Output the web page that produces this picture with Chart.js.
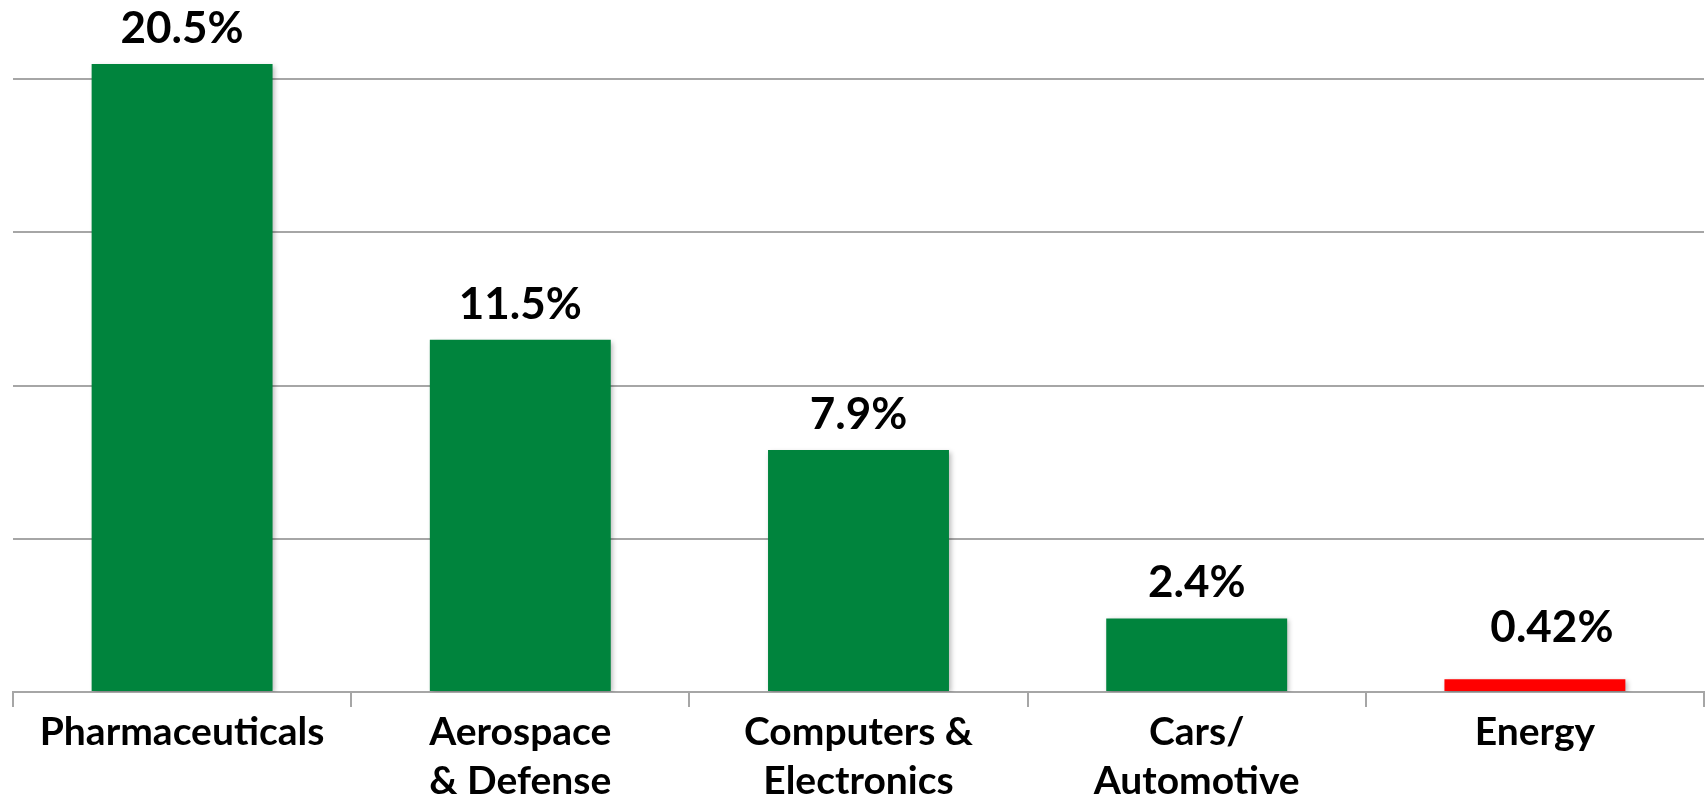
<!DOCTYPE html>
<html>
<head>
<meta charset="utf-8">
<script src="https://cdn.jsdelivr.net/npm/chart.js@4.4.1/dist/chart.umd.min.js"></script>
<style>
  html, body { margin: 0; padding: 0; background: #ffffff; }
  #wrap { width: 1708px; height: 801px; position: relative; }
</style>
</head>
<body>
<div id="wrap"><canvas id="c" width="1708" height="801"></canvas></div>
<script>
const categories = [
  ['Pharmaceuticals'],
  ['Aerospace', '& Defense'],
  ['Computers &', 'Electronics'],
  ['Cars/', 'Automotive'],
  ['Energy']
];
const values = [20.5, 11.5, 7.9, 2.4, 0.42];
const valueLabels = ['20.5%', '11.5%', '7.9%', '2.4%', '0.42%'];
const barColors = ['#00843D', '#00843D', '#00843D', '#00843D', '#FF0000'];
const gridTicks = [0, 5, 10, 15, 20];

const FONT = "Lato, 'Open Sans', sans-serif";

const shadowPlugin = {
  id: 'barShadow',
  beforeDatasetsDraw(chart) {
    const ctx = chart.ctx;
    ctx.save();
    ctx.shadowColor = 'rgba(0,0,0,0.28)';
    ctx.shadowBlur = 5;
    ctx.shadowOffsetX = 2;
    ctx.shadowOffsetY = 2;
  },
  afterDatasetsDraw(chart) {
    chart.ctx.restore();
  }
};

const valueLabelPlugin = {
  id: 'valueLabels',
  afterDraw(chart) {
    const ctx = chart.ctx;
    const meta = chart.getDatasetMeta(0);
    ctx.save();
    ctx.fillStyle = '#000000';
    ctx.font = "bold 44px " + FONT;
    ctx.textAlign = 'center';
    ctx.textBaseline = 'alphabetic';
    meta.data.forEach((bar, i) => {
      let dx = 0, dy = 21;
      if (i === values.length - 1) { dx = 17; dy = 37; }
      ctx.fillText(valueLabels[i], bar.x + dx, bar.y - dy);
    });
    ctx.restore();
  }
};

new Chart(document.getElementById('c'), {
  type: 'bar',
  data: {
    labels: categories,
    datasets: [{
      data: values,
      backgroundColor: barColors,
      borderWidth: 0,
      barPercentage: 0.535,
      categoryPercentage: 1.0
    }]
  },
  options: {
    responsive: false,
    animation: false,
    devicePixelRatio: 1,
    layout: { padding: { left: 13, right: 4, top: 18, bottom: 0 } },
    plugins: {
      legend: { display: false },
      tooltip: { enabled: false }
    },
    scales: {
      x: {
        grid: {
          display: true,
          drawOnChartArea: false,
          drawTicks: true,
          tickLength: 15,
          color: '#a6a6a6',
          lineWidth: 2,
          offset: true
        },
        border: { display: true, color: '#a6a6a6', width: 2 },
        ticks: {
          color: '#000000',
          font: { family: FONT, size: 39, weight: 'bold', lineHeight: 1.28 },
          padding: 0,
          maxRotation: 0,
          autoSkip: false
        },
        afterFit(scale) { scale.height = 109; }
      },
      y: {
        min: 0,
        max: 22,
        grid: {
          color: '#a6a6a6',
          lineWidth: 2,
          drawTicks: false
        },
        border: { display: false },
        ticks: { display: false, stepSize: 5 },
        afterBuildTicks(scale) {
          scale.ticks = gridTicks.map(v => ({ value: v }));
        },
        afterFit(scale) { scale.width = 0; }
      }
    }
  },
  plugins: [shadowPlugin, valueLabelPlugin]
});
</script>
</body>
</html>
